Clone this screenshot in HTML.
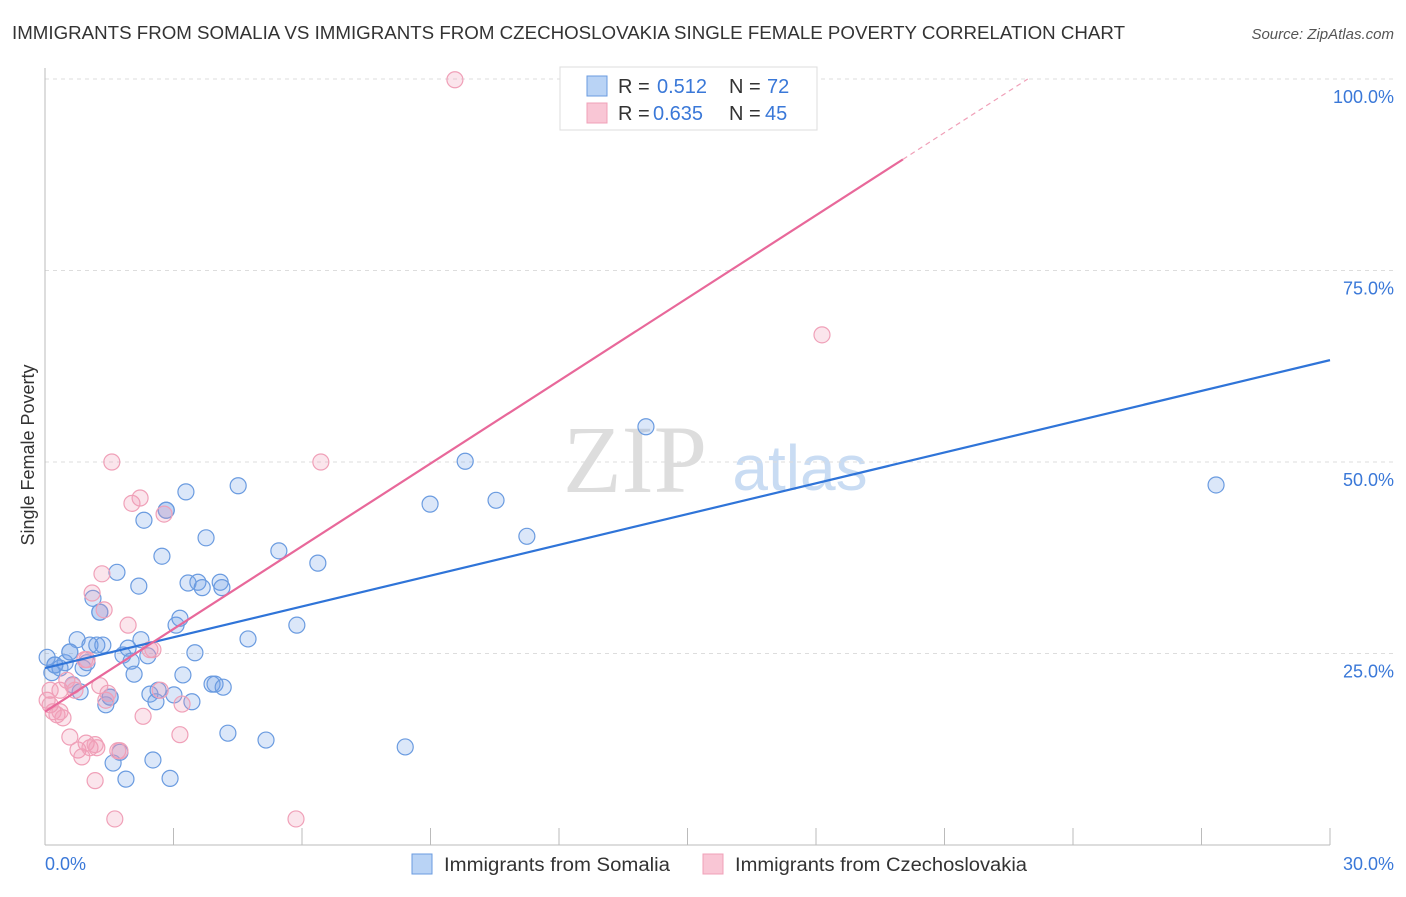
<!DOCTYPE html>
<html><head><meta charset="utf-8"><style>
body{margin:0;background:#fff;font-family:"Liberation Sans",sans-serif}
</style></head><body>
<svg width="1406" height="892" xmlns="http://www.w3.org/2000/svg" font-family="Liberation Sans, sans-serif">
<text x="12" y="39" font-size="18" fill="#333" textLength="1113" lengthAdjust="spacingAndGlyphs">IMMIGRANTS FROM SOMALIA VS IMMIGRANTS FROM CZECHOSLOVAKIA SINGLE FEMALE POVERTY CORRELATION CHART</text>
<text x="1394" y="39" font-size="15" fill="#555" font-style="italic" text-anchor="end">Source: ZipAtlas.com</text>
<text x="635" y="492" font-size="96" fill="#ddd" font-family="Liberation Serif, serif" text-anchor="middle">ZIP</text>
<text x="800" y="490" font-size="64" fill="#c9dcf3" text-anchor="middle">atlas</text>
<g id="grid"></g><g id="pts"></g><g id="lines"></g>
<text x="34" y="455" font-size="18" fill="#333" transform="rotate(-90 34 455)" text-anchor="middle">Single Female Poverty</text>
<text x="45" y="870" font-size="18" fill="#3a78d8">0.0%</text>
<text x="1394" y="870" font-size="18" fill="#3a78d8" text-anchor="end">30.0%</text>
<g>
<rect x="560" y="67" width="257" height="63" fill="#fff" stroke="#ddd"/>
<rect x="587" y="76" width="20" height="20" fill="#b9d3f5" stroke="#6a9be0"/>
<rect x="587" y="103" width="20" height="20" fill="#f9c6d5" stroke="#f0a0b8"/>
<text x="618" y="93" font-size="20" fill="#333">R =</text>
<text x="657" y="93" font-size="20" fill="#3a78d8">0.512</text>
<text x="729" y="93" font-size="20" fill="#333">N =</text>
<text x="767" y="93" font-size="20" fill="#3a78d8">72</text>
<text x="618" y="120" font-size="20" fill="#333">R =</text>
<text x="653" y="120" font-size="20" fill="#3a78d8">0.635</text>
<text x="729" y="120" font-size="20" fill="#333">N =</text>
<text x="765" y="120" font-size="20" fill="#3a78d8">45</text>
</g>
<g><rect x="412" y="854" width="20" height="20" fill="#b9d3f5" stroke="#6a9be0"/><text x="444" y="871" font-size="19" fill="#333" textLength="226" lengthAdjust="spacingAndGlyphs">Immigrants from Somalia</text></g>
<g><rect x="703" y="854" width="20" height="20" fill="#f9c6d5" stroke="#f0a0b8"/><text x="735" y="871" font-size="19" fill="#333" textLength="292" lengthAdjust="spacingAndGlyphs">Immigrants from Czechoslovakia</text></g>
</svg>
<script>
const yTicks=[25,50,75,100];
const yTickLabels=["25.0%","50.0%","75.0%","100.0%"];
const xTicks=[3,6,9,12,15,18,21,24,27,30];
const blueX=[0.05,0.16,0.23,0.35,0.47,0.58,0.65,0.75,0.82,0.89,0.98,1.05,1.12,1.21,1.28,1.35,1.42,1.52,1.59,1.68,1.75,1.82,1.89,1.94,2.01,2.08,2.19,2.24,2.31,2.40,2.45,2.52,2.59,2.64,2.73,2.83,2.92,3.01,3.06,3.15,3.22,3.29,3.34,3.43,3.50,3.57,3.67,3.76,3.90,3.97,4.09,4.16,4.27,4.13,4.51,4.74,5.16,5.46,5.88,6.37,8.41,8.99,9.81,10.53,11.25,14.03,27.34,2.83,1.52,1.28,0.58,0.23];
const blueY=[24.5,22.5,23.5,23.1,23.8,25.2,20.9,26.8,20.0,23.1,23.8,26.1,32.2,26.1,30.4,26.1,18.3,19.3,10.7,35.6,12.1,24.8,8.6,25.7,24.0,22.3,33.8,26.8,42.4,24.7,19.7,11.1,18.7,20.2,37.7,43.7,8.7,19.6,28.7,29.6,22.2,46.1,34.2,18.7,25.1,34.3,33.6,40.1,21.0,21.0,34.3,20.6,14.6,33.6,46.9,26.9,13.7,38.4,28.7,36.8,12.8,44.5,50.1,45.0,40.3,54.6,47.0,43.7,19.3,30.4,25.2,23.5];
const pinkX=[0.05,0.12,0.19,0.28,0.35,0.42,0.51,0.58,0.65,0.77,0.86,0.96,0.98,1.05,1.10,1.17,1.21,1.28,1.33,1.38,1.42,1.56,1.63,1.70,1.94,2.03,2.22,2.29,2.45,2.52,2.69,2.78,3.15,3.20,5.86,6.44,9.57,18.14,0.12,0.35,0.70,0.93,1.17,1.47,1.75];
const pinkY=[18.9,18.3,17.4,17.0,20.2,16.6,21.5,14.1,20.8,12.4,11.5,13.3,24.2,12.7,32.9,8.4,12.7,20.8,35.4,30.7,18.9,50.0,3.4,12.3,28.7,44.6,45.3,16.8,25.5,25.5,20.2,43.2,14.4,18.4,3.4,50.0,99.9,66.6,20.2,17.4,20.2,24.2,13.1,19.8,12.3];
const blueLine=[23.1,63.3];
const pinkLine=[17.4,3.6];
const NS="http://www.w3.org/2000/svg";
const sx=v=>45+v*(1285/30), sy=v=>845-v*7.66;
function mk(t,a,p){const e=document.createElementNS(NS,t);for(const k in a)e.setAttribute(k,a[k]);p.appendChild(e);return e;}
const g=document.getElementById('grid');
yTicks.forEach((t,i)=>{
 const l=mk('line',{x1:45,x2:1394,y1:sy(t),y2:sy(t),stroke:'#ddd','stroke-dasharray':'4,4'},g);
 
 
 const tx=mk('text',{x:1394,y:sy(t)+24,'font-size':18,fill:'#3a78d8','text-anchor':'end'},g);
 tx.textContent=yTickLabels[i];
 
 
});
const ax=mk('line',{x1:45,x2:1330,y1:845,y2:845,stroke:'#bbb'},g);


const ay=mk('line',{x1:45,x2:45,y1:68,y2:845,stroke:'#bbb'},g);


xTicks.forEach(t=>{
 const l=mk('line',{x1:sx(t),x2:sx(t),y1:828,y2:845,stroke:'#bbb'},g);
 
 
});
const pg=document.getElementById('pts');
blueX.forEach((x,i)=>{
 const c=mk('circle',{cx:sx(x),cy:sy(blueY[i]),r:8,fill:'rgba(110,160,230,0.25)',stroke:'#6a9be0','stroke-width':1.2},pg);
 
 
});
pinkX.forEach((x,i)=>{
 const c=mk('circle',{cx:sx(x),cy:sy(pinkY[i]),r:8,fill:'rgba(240,150,180,0.25)',stroke:'#f0a0b8','stroke-width':1.2},pg);
 
 
});
const lg=document.getElementById('lines');
const bl=mk('line',{x1:sx(0),y1:sy(blueLine[0]),x2:sx(30),y2:sy(blueLine[1]),stroke:'#2f74d8','stroke-width':2.2},lg);


const xe=20.03, xd=(100-pinkLine[0])/pinkLine[1];
const pl=mk('line',{x1:sx(0),y1:sy(pinkLine[0]),x2:sx(xe),y2:sy(pinkLine[0]+pinkLine[1]*xe),stroke:'#e8689a','stroke-width':2.2},lg);


const pd=mk('line',{x1:sx(xe),y1:sy(pinkLine[0]+pinkLine[1]*xe),x2:sx(xd),y2:sy(100),stroke:'#f0a0b8','stroke-width':1.2,'stroke-dasharray':'5,4'},lg);


</script>
</body></html>
